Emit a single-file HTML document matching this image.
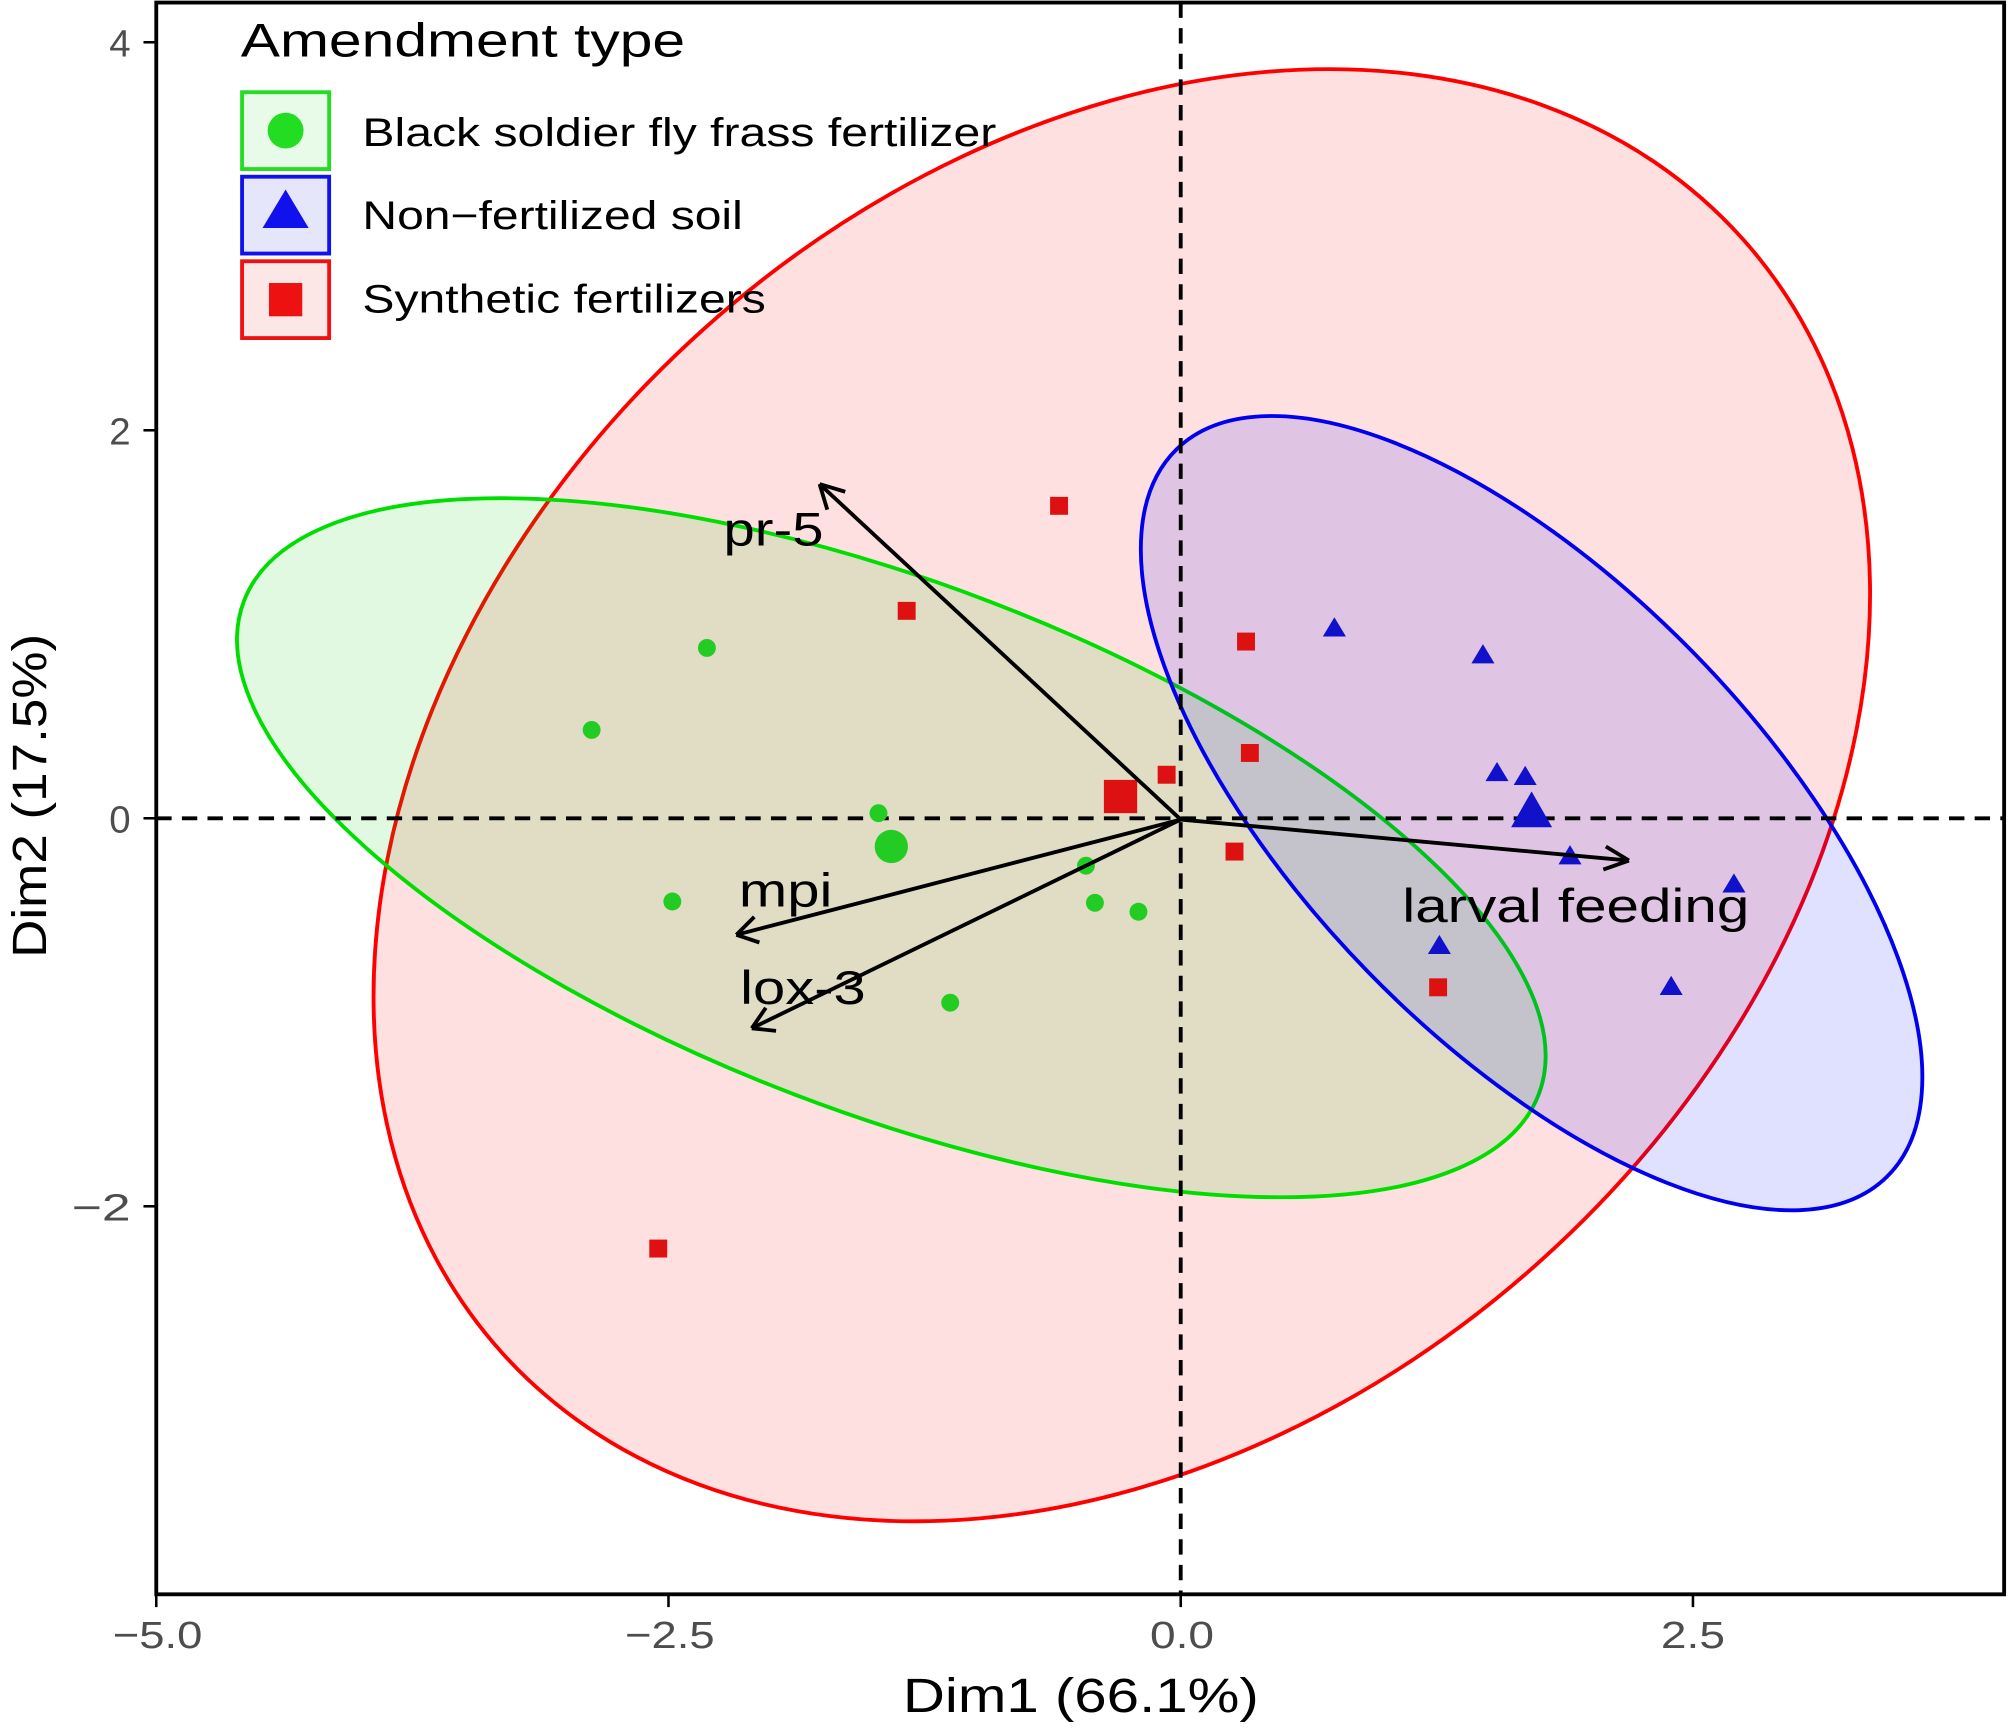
<!DOCTYPE html>
<html><head><meta charset="utf-8"><style>html,body{margin:0;padding:0;background:#fff;overflow:hidden;width:2008px;height:1728px}svg{display:block}</style></head>
<body>
<svg width="2008" height="1728" viewBox="0 0 1568 1349.4" xmlns="http://www.w3.org/2000/svg" font-family="Liberation Sans, sans-serif">
<rect width="1568" height="1349.4" fill="#fff"/>
<ellipse cx="876" cy="621" rx="651" ry="489" transform="rotate(-41.9 876 621)" fill="#ff0000" fill-opacity="0.12" stroke="#ff0000" stroke-width="3"/>
<ellipse cx="696" cy="662" rx="541" ry="207" transform="rotate(20.85 696 662)" fill="#00d000" fill-opacity="0.12" stroke="#00dd00" stroke-width="3"/>
<ellipse cx="1196" cy="635" rx="397" ry="178" transform="rotate(45.7 1196 635)" fill="#0000ff" fill-opacity="0.12" stroke="#0000ee" stroke-width="3"/>
<line x1="922" y1="2" x2="922" y2="1245" stroke="#000" stroke-width="3" stroke-dasharray="12,8"/>
<line x1="122" y1="639" x2="1565" y2="639" stroke="#000" stroke-width="3" stroke-dasharray="12,8"/>
<g fill="#22cc22">
<circle cx="552" cy="506" r="7"/><circle cx="462" cy="570" r="7"/><circle cx="686" cy="635" r="7"/><circle cx="525" cy="704" r="7"/><circle cx="848" cy="676" r="7"/><circle cx="855" cy="705" r="7"/><circle cx="889" cy="712" r="7"/><circle cx="742" cy="783" r="7"/><circle cx="696" cy="661" r="13"/>
</g>
<g fill="#dd1111">
<rect x="820" y="388" width="14" height="14"/><rect x="701" y="470" width="14" height="14"/><rect x="966" y="494" width="14" height="14"/><rect x="904" y="598" width="14" height="14"/><rect x="969" y="581" width="14" height="14"/><rect x="957" y="658" width="14" height="14"/><rect x="1116" y="764" width="14" height="14"/><rect x="507" y="968" width="14" height="14"/><rect x="862" y="609" width="26" height="26"/>
</g>
<g fill="#1111cc">
<path d="M1042 482 l9 15 h-18z"/><path d="M1158 503 l9 15 h-18z"/><path d="M1169 595 l9 15 h-18z"/><path d="M1191 598 l9 15 h-18z"/><path d="M1226 660 l9 15 h-18z"/><path d="M1354 682 l9 15 h-18z"/><path d="M1124 730 l9 15 h-18z"/><path d="M1305 762 l9 15 h-18z"/><path d="M1196 618 l16 28 h-32z"/>
</g>
<g stroke="#000" stroke-width="3" fill="none">
<line x1="922" y1="640" x2="640" y2="378"/><path d="M640 378 l6 20 M640 378 l20 6"/>
<line x1="922" y1="640" x2="575" y2="730"/><path d="M575 730 l14 -14 M575 730 l18 6"/>
<line x1="922" y1="640" x2="587" y2="803"/><path d="M587 803 l11 -16 M587 803 l19 2"/>
<line x1="922" y1="640" x2="1272" y2="672"/><path d="M1272 672 l-18 -11 M1272 672 l-20 7"/>
</g>
<g font-size="37" fill="#000">
<text x="565" y="426" textLength="78" lengthAdjust="spacingAndGlyphs">pr-5</text>
<text x="577" y="708" textLength="73" lengthAdjust="spacingAndGlyphs">mpi</text>
<text x="578" y="784" textLength="98" lengthAdjust="spacingAndGlyphs">lox-3</text>
<text x="1095" y="720" textLength="271" lengthAdjust="spacingAndGlyphs">larval feeding</text>
</g>
<rect x="122" y="2" width="1443" height="1243" fill="none" stroke="#000" stroke-width="3"/>
<g stroke="#000" stroke-width="2">
<line x1="112" y1="33" x2="122" y2="33"/><line x1="112" y1="336" x2="122" y2="336"/><line x1="112" y1="639" x2="122" y2="639"/><line x1="112" y1="942" x2="122" y2="942"/>
<line x1="122" y1="1245" x2="122" y2="1255"/><line x1="522" y1="1245" x2="522" y2="1255"/><line x1="922" y1="1245" x2="922" y2="1255"/><line x1="1322" y1="1245" x2="1322" y2="1255"/>
</g>
<g font-size="30" fill="#4d4d4d" text-anchor="end">
<text x="102" y="44">4</text><text x="102" y="347">2</text><text x="102" y="650">0</text><text x="102" y="953" textLength="46" lengthAdjust="spacingAndGlyphs">−2</text>
</g>
<g font-size="30" fill="#4d4d4d">
<text x="88" y="1287" textLength="70" lengthAdjust="spacingAndGlyphs">−5.0</text>
<text x="488" y="1287" textLength="70" lengthAdjust="spacingAndGlyphs">−2.5</text>
<text x="898" y="1287" textLength="50" lengthAdjust="spacingAndGlyphs">0.0</text>
<text x="1297" y="1287" textLength="50" lengthAdjust="spacingAndGlyphs">2.5</text>
</g>
<text x="705" y="1337" font-size="38" textLength="278" lengthAdjust="spacingAndGlyphs">Dim1 (66.1%)</text>
<text transform="translate(36 748) rotate(-90)" font-size="38" textLength="253" lengthAdjust="spacingAndGlyphs">Dim2 (17.5%)</text>
<text x="188" y="44" font-size="37" textLength="347" lengthAdjust="spacingAndGlyphs">Amendment type</text>
<rect x="189" y="72" width="68" height="60" fill="#e8fbe8" stroke="#22dd22" stroke-width="3"/>
<circle cx="223" cy="102" r="14" fill="#22dd22"/>
<rect x="189" y="138" width="68" height="60" fill="#e6e6fb" stroke="#1111ee" stroke-width="3"/>
<path d="M223 148 l18 30 h-36z" fill="#1111ee"/>
<rect x="189" y="204" width="68" height="60" fill="#fde6e6" stroke="#ee1111" stroke-width="3"/>
<rect x="210" y="221" width="26" height="26" fill="#ee1111"/>
<g font-size="31" fill="#000">
<text x="283" y="114" textLength="495" lengthAdjust="spacingAndGlyphs">Black soldier fly frass fertilizer</text>
<text x="283" y="179" textLength="297" lengthAdjust="spacingAndGlyphs">Non−fertilized soil</text>
<text x="283" y="244" textLength="315" lengthAdjust="spacingAndGlyphs">Synthetic fertilizers</text>
</g>
</svg>
</body></html>
